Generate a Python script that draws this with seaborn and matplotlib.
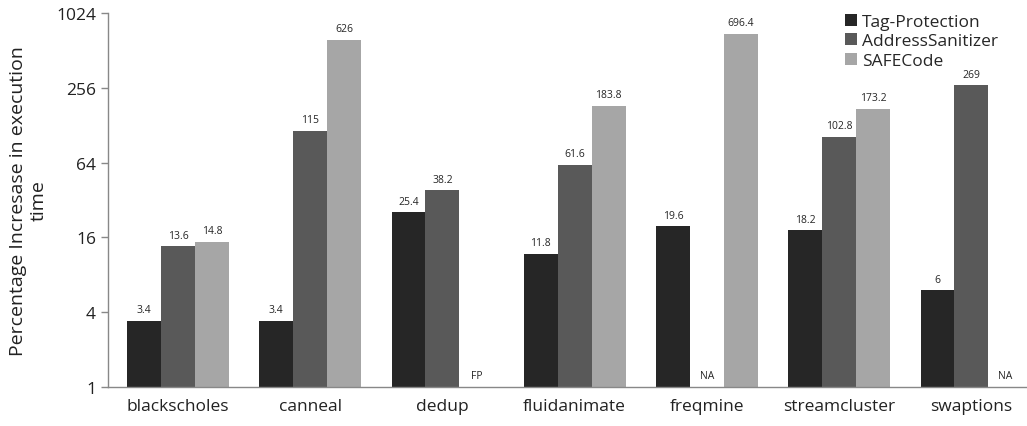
import numpy as np
import pandas as pd
import seaborn as sns
import matplotlib.pyplot as plt

benchmarks = ["blackscholes", "canneal", "dedup", "fluidanimate", "freqmine", "streamcluster", "swaptions"]
tools = ["Tag-Protection", "AddressSanitizer", "SAFECode"]
tag_protection = [3.4, 3.4, 25.4, 11.8, 19.6, 18.2, 6]
address_sanitizer = [13.6, 115, 38.2, 61.6, np.nan, 102.8, 269]
safecode = [14.8, 626, np.nan, 183.8, 696.4, 173.2, np.nan]
missing_notes = {("dedup", "SAFECode"): "FP", ("freqmine", "AddressSanitizer"): "NA",
                 ("swaptions", "SAFECode"): "NA"}
colors = ["#262626", "#595959", "#a6a6a6"]

rows = []
for tool, vals in zip(tools, [tag_protection, address_sanitizer, safecode]):
    for b, v in zip(benchmarks, vals):
        rows.append({"benchmark": b, "tool": tool, "value": v})
df = pd.DataFrame(rows)

sns.set_style("white")
plt.rcParams['font.family'] = ['Open Sans', 'DejaVu Sans']

fig = plt.figure(figsize=(10.27, 4.27), dpi=100)
ax = fig.add_axes([0.105, 0.0913, 0.895, 0.876])

width = 0.77
sns.barplot(data=df, x="benchmark", y="value", hue="tool", order=benchmarks, hue_order=tools,
            palette=colors, width=width, errorbar=None, saturation=1, linewidth=0, ax=ax)

ax.set_yscale("log", base=2)
ax.set_ylim(1, 1024)
ax.set_yticks([1, 4, 16, 64, 256, 1024])
ax.set_yticklabels(["1", "4", "16", "64", "256", "1024"])
ax.set_xlim(-0.53, 6.42)
ax.minorticks_off()

# value labels above bars, notes for missing ones
step = width / len(tools)
for j, tool in enumerate(tools):
    sub = df[df.tool == tool]
    for i, b in enumerate(benchmarks):
        v = sub[sub.benchmark == b].value.iloc[0]
        x = i + (j - 1) * step
        if np.isnan(v):
            ax.annotate(missing_notes[(b, tool)], (x, 1), xytext=(0, 4), textcoords="offset points",
                        ha="center", va="bottom", fontsize=7.5, color="#262626")
        else:
            ax.annotate(f"{v:g}", (x, v), xytext=(0, 4), textcoords="offset points",
                        ha="center", va="bottom", fontsize=7.5, color="#262626")

ax.set_xlabel("")
ax.set_ylabel("Percentage Incresase in execution\ntime", fontsize=14, color="#222222", labelpad=6)
ax.tick_params(axis="x", labelsize=12.5, colors="#222222", length=0, pad=8)
ax.tick_params(axis="y", labelsize=12.5, colors="#222222", length=5, width=1, direction="out", left=True)
ax.yaxis.set_tick_params(color="#888888")

for s in ["top", "right"]:
    ax.spines[s].set_visible(False)
for s in ["left", "bottom"]:
    ax.spines[s].set_color("#888888")
    ax.spines[s].set_linewidth(1)

ax.legend(loc="upper left", bbox_to_anchor=(0.785, 1.04), frameon=False, fontsize=12.5,
          handlelength=0.7, handleheight=0.7, handletextpad=0.3, labelspacing=0.2)

fig.savefig("out.png", dpi=100)
